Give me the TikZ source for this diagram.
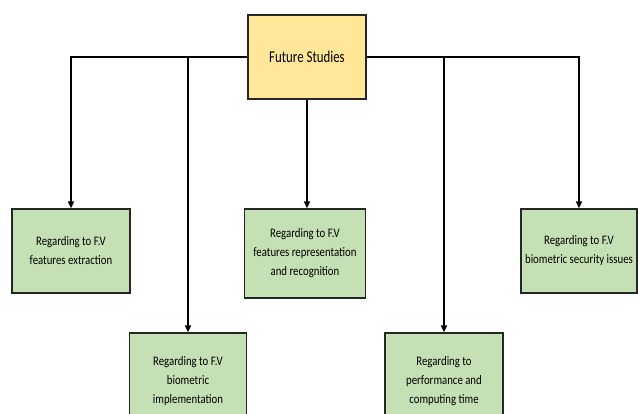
\documentclass[tikz,border=0pt]{standalone}
\usepackage{fontspec}
\setmainfont{Carlito}
\newfontfamily\rootfont[FakeStretch=0.78]{Carlito}
\newfontfamily\leaffont[FakeStretch=0.83]{Carlito}
\usetikzlibrary{arrows.meta}
\definecolor{topfill}{HTML}{FFE699}
\definecolor{leaffill}{HTML}{C5E0B4}
\definecolor{edge}{HTML}{262626}
\tikzset{
  rootbox/.style={draw=edge, line width=1.2pt, fill=topfill, minimum width=118pt, minimum height=84pt, inner sep=2pt, font=\rootfont\fontsize{16.5}{19}\selectfont},
  leafbox/.style={draw=edge, line width=1.2pt, fill=leaffill, align=center, inner sep=2pt, font=\leaffont\fontsize{13}{19}\selectfont},
  link/.style={line width=1.7pt, -{Triangle[width=6pt,length=7pt]}}
}
\begin{document}
\begin{tikzpicture}[x=1pt,y=-1pt]
\useasboundingbox (0,0) rectangle (638,413);
\clip (0,0) rectangle (638,413);
% central topic
\node[rootbox] (top) at (307,57) {Future Studies};
% research directions
\node[leafbox, minimum width=118pt, minimum height=84pt] (b1) at (71,251) {Regarding to F.V\\features extraction};
\node[leafbox, minimum width=117pt, minimum height=96pt] (b2) at (188,381) {Regarding to F.V\\biometric\\implementation};
\node[leafbox, minimum width=121pt, minimum height=89pt] (b3) at (305,253.5) {Regarding to F.V\\features representation\\and recognition};
\node[leafbox, minimum width=118pt, minimum height=96pt] (b4) at (444,381) {Regarding to\\performance and\\computing time};
\node[leafbox, minimum width=116pt, minimum height=84pt] (b5) at (579,251) {Regarding to F.V\\biometric security issues};
% connectors
\draw[link] (top.west) -| (b1.north);
\draw[link] (top.west) -| (b2.north);
\draw[link] (top.south) -- (top.south |- b3.north);
\draw[link] (top.east) -| (b4.north);
\draw[link] (top.east) -| (b5.north);
\end{tikzpicture}
\end{document}
